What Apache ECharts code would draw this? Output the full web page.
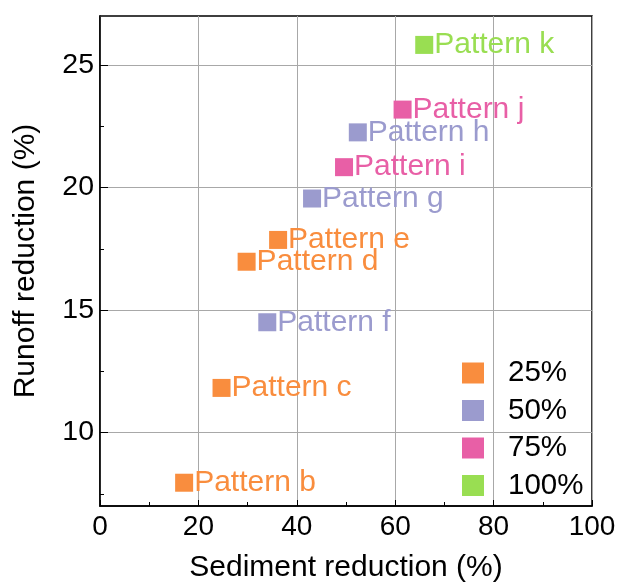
<!DOCTYPE html>
<html>
<head>
<meta charset="utf-8">
<script src="https://cdn.jsdelivr.net/npm/echarts@6/dist/echarts.min.js"></script>
<style>html,body{margin:0;padding:0;background:#fff}#c{width:617px;height:584px}</style>
</head>
<body>
<div id="c"></div>
<script>
const groupNames = ['25%', '50%', '75%', '100%'];
const groupColors = ['#F98D3E', '#9B9BCE', '#E85FA6', '#99DE52'];
const names25 = ['Pattern b', 'Pattern c', 'Pattern d', 'Pattern e'];
const x25 = [17.1, 24.7, 29.8, 36.2];
const y25 = [7.95, 11.82, 16.97, 17.86];
const names50 = ['Pattern f', 'Pattern g', 'Pattern h'];
const x50 = [34.0, 43.1, 52.4];
const y50 = [14.5, 19.55, 22.25];
const names75 = ['Pattern i', 'Pattern j'];
const x75 = [49.6, 61.5];
const y75 = [20.83, 23.18];
const names100 = ['Pattern k'];
const x100 = [65.9];
const y100 = [25.82];
const yTickLabels = [10, 15, 20, 25];
const yMinorTicks = [7.5, 12.5, 17.5, 22.5];

const FONT = '"Liberation Sans", Arial, sans-serif';
const groups = [[names25, x25, y25], [names50, x50, y50], [names75, x75, y75], [names100, x100, y100]];

const series = groups.map((g, gi) => ({
  name: groupNames[gi],
  type: 'scatter',
  symbol: 'rect',
  symbolSize: 18,
  xAxisIndex: 0,
  yAxisIndex: 0,
  itemStyle: { color: groupColors[gi], opacity: 1 },
  label: {
    show: true, position: 'right', distance: 1, formatter: '{b}',
    color: groupColors[gi], fontSize: 30, fontFamily: FONT
  },
  emphasis: { disabled: true },
  data: g[0].map((n, i) => ({ name: n, value: [g[1][i], g[2][i]] }))
}));

const chart = echarts.init(document.getElementById('c'), null, { renderer: 'canvas' });
chart.setOption({
  animation: false,
  backgroundColor: '#fff',
  grid: {
    left: 100, right: 25, top: 16, bottom: 78,
    show: true, borderColor: '#000', borderWidth: 1.5,
    outerBoundsMode: 'none'
  },
  legend: {
    orient: 'vertical',
    left: 462, top: 358, padding: 0,
    itemWidth: 22, itemHeight: 21, itemGap: 7.5,
    icon: 'rect',
    data: groupNames,
    itemStyle: { opacity: 1 },
    textStyle: { fontSize: 29.5, fontFamily: FONT, color: '#000', padding: [0, 0, 0, 19], lineHeight: 30 }
  },
  xAxis: [{
    type: 'value', min: 0, max: 100, interval: 20,
    name: 'Sediment reduction (%)', nameLocation: 'middle', nameGap: 47,
    nameTextStyle: { fontSize: 30, fontFamily: FONT, color: '#000' },
    axisLine: { show: true, lineStyle: { color: '#000', width: 1.5 } },
    axisTick: { show: true, inside: true, length: 6, lineStyle: { color: '#000', width: 1 } },
    minorTick: { show: true, splitNumber: 2, length: 4, lineStyle: { color: '#000', width: 1 } },
    axisLabel: { fontSize: 28, fontFamily: FONT, color: '#000', margin: 7 },
    splitLine: { show: true, lineStyle: { color: '#a8a8a8', width: 1 } }
  }],
  yAxis: [{
    type: 'value', min: 7, max: 27,
    name: 'Runoff reduction (%)', nameLocation: 'middle', nameGap: 59,
    nameTextStyle: { fontSize: 30, fontFamily: FONT, color: '#000' },
    axisLine: { show: true, lineStyle: { color: '#000', width: 1.5 } },
    axisTick: { show: true, inside: true, length: 8, customValues: yTickLabels, lineStyle: { color: '#000', width: 1 } },
    axisLabel: { fontSize: 28.5, fontFamily: FONT, color: '#000', margin: 6, customValues: yTickLabels },
    splitLine: { show: true, lineStyle: { color: '#a8a8a8', width: 1 } }
  }, {
    type: 'value', min: 7, max: 27, position: 'left',
    axisLine: { show: false },
    axisTick: { show: true, inside: true, length: 4, customValues: yMinorTicks, lineStyle: { color: '#000', width: 1 } },
    axisLabel: { show: false },
    splitLine: { show: false }
  }],
  series: series
});
</script>
</body>
</html>
